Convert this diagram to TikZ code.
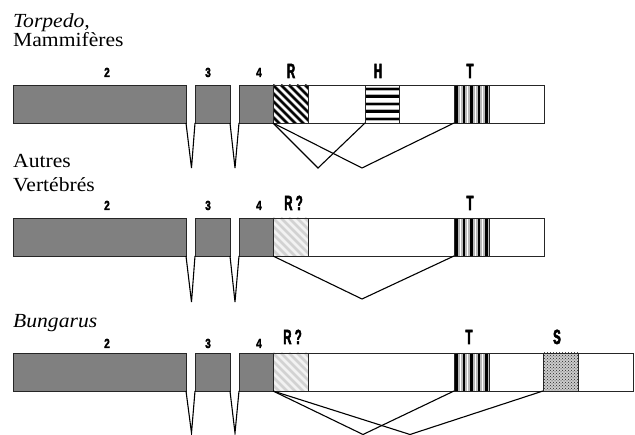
\documentclass[tikz,border=0pt]{standalone}
\usepackage{fontspec}
\setmainfont{Liberation Serif}[FakeStretch=1.08]
\newfontfamily\numfont{Liberation Sans Bold}[FakeStretch=0.75, FakeBold=2.5]
\newfontfamily\letfont{Liberation Sans Bold}[FakeStretch=0.56, FakeBold=2.5]
\usetikzlibrary{patterns}
\begin{document}
\begin{tikzpicture}[x=1pt,y=-1pt,
 seg/.style={rectangle, draw=black!85, line width=0.7pt, inner sep=0pt, outer sep=0pt, minimum height=38pt, anchor=north west},
 exon/.style={seg, fill=gray},
 whitebox/.style={seg, fill=white},
 link/.style={line width=1.1pt, line join=miter},
 numlab/.style={anchor=base, inner sep=0pt, font=\numfont\fontsize{13.2}{15}\selectfont},
 letlab/.style={anchor=base, inner sep=0pt, font=\letfont\fontsize{20.5}{23}\selectfont},
 sp/.style={anchor=base west, inner sep=0pt, font=\fontsize{20}{23}\selectfont},
 rbox/.style={seg, fill=white, path picture={
   \foreach \k in {-6,...,5} \draw[gray, line width=3.4pt] ([xshift=\k*8pt]path picture bounding box.north west) -- ++(45pt,-45pt);
   \foreach \k in {-6,...,5} \draw[black, line width=2pt] ([xshift=\k*8pt]path picture bounding box.north west) -- ++(45pt,-45pt);}},
 rqbox/.style={seg, fill=gray!10, path picture={
   \foreach \k in {-6,...,5} \draw[gray!35, line width=2.6pt] ([xshift=\k*8pt]path picture bounding box.north west) -- ++(45pt,-45pt);}},
 hbox/.style={seg, fill=white, path picture={
   \foreach \k in {0,...,4} \draw[gray!60, line width=4pt] ([yshift=-4pt-\k*7.5pt]path picture bounding box.north west) -- ++(40pt,0pt);
   \foreach \k in {0,...,4} \draw[black, line width=2.2pt] ([yshift=-4pt-\k*7.5pt]path picture bounding box.north west) -- ++(40pt,0pt);}},
 tbox/.style={seg, fill=gray!55, path picture={
   \foreach \k in {0,...,4} \draw[black, line width=2.2pt] ([xshift=2.5pt+\k*7.5pt]path picture bounding box.north west) -- ++(0pt,-40pt);
   \foreach \k in {0,...,3} \draw[white, line width=0.9pt] ([xshift=6.25pt+\k*7.5pt]path picture bounding box.north west) -- ++(0pt,-40pt);}},
 sbox/.style={seg, fill=gray!40, path picture={
   \fill[pattern=crosshatch dots, pattern color=black!85] (path picture bounding box.south west) rectangle (path picture bounding box.north east);}}
]
\useasboundingbox (0,0) rectangle (635,435);

% common exons and introns
\foreach \r/\t/\ap/\nb in {1/85/168/77, 2/218/302/210, 3/353/433/348}{
  \node[exon, minimum width=173pt] (e2-\r) at (13,\t) {};
  \node[exon, minimum width=35pt] (e3-\r) at (195,\t) {};
  \node[exon, minimum width=34pt] (e4-\r) at (239,\t) {};
  \coordinate (ia-\r) at (191.5,\ap);
  \coordinate (ib-\r) at (235,\ap);
  \draw[link] (e2-\r.south east) -- (ia-\r) -- (e3-\r.south west);
  \draw[link] (e3-\r.south east) -- (ib-\r) -- (e4-\r.south west);
  \node[numlab] (n2-\r) at (107,\nb) {2};
  \node[numlab] (n3-\r) at (208,\nb) {3};
  \node[numlab] (n4-\r) at (259,\nb) {4};
}

% row 1
\node[rbox, minimum width=35pt] (R1) at (273,85) {};
\node[whitebox, minimum width=57pt] (w11) at (308,85) {};
\node[hbox, minimum width=34pt] (H1) at (365,85) {};
\node[whitebox, minimum width=55pt] (w12) at (399,85) {};
\node[tbox, minimum width=35pt] (T1) at (454,85) {};
\node[whitebox, minimum width=55pt] (w13) at (489,85) {};
\node[letlab] (lR1) at (291,78) {R};
\node[letlab] (lH1) at (378,78) {H};
\node[letlab] (lT1) at (470,78) {T};
\coordinate (a1) at (318,168);
\coordinate (a2) at (362,168);
\draw[link] (R1.south west) -- (a1) -- (H1.south west);
\draw[link] (R1.south west) -- (a2) -- (T1.south west);
\node[sp] (torp) at (13,27.5) {\itshape Torpedo,};
\node[sp] (mamm) at (13,47) {Mammifères};

% row 2
\node[rqbox, minimum width=35pt] (R2) at (273,218) {};
\node[whitebox, minimum width=146pt] (w21) at (308,218) {};
\node[tbox, minimum width=35pt] (T2) at (454,218) {};
\node[whitebox, minimum width=55pt] (w22) at (489,218) {};
\node[letlab] (lR2) at (293.5,210) {R ?};
\node[letlab] (lT2) at (470,210) {T};
\coordinate (b1) at (362,299);
\draw[link] (R2.south west) -- (b1) -- (T2.south west);
\node[sp] (autr) at (13,168) {Autres};
\node[sp] (vert) at (13,191.5) {Vertébrés};

% row 3
\node[rqbox, minimum width=35pt] (R3) at (273,353) {};
\node[whitebox, minimum width=146pt] (w31) at (308,353) {};
\node[tbox, minimum width=35pt] (T3) at (454,353) {};
\node[whitebox, minimum width=54pt] (w32) at (489,353) {};
\node[sbox, minimum width=35pt] (S3) at (543,353) {};
\node[whitebox, minimum width=55pt] (w33) at (578,353) {};
\node[letlab] (lR3) at (292.5,344) {R ?};
\node[letlab] (lT3) at (469,344) {T};
\node[letlab] (lS3) at (557,344) {S};
\coordinate (c1) at (363,434.5);
\coordinate (c2) at (410,434.5);
\draw[link] (R3.south west) -- (c1) -- (T3.south west);
\draw[link] (R3.south west) -- (c2) -- (S3.south west);
\node[sp] (bung) at (13,328) {\itshape Bungarus};
\end{tikzpicture}
\end{document}
